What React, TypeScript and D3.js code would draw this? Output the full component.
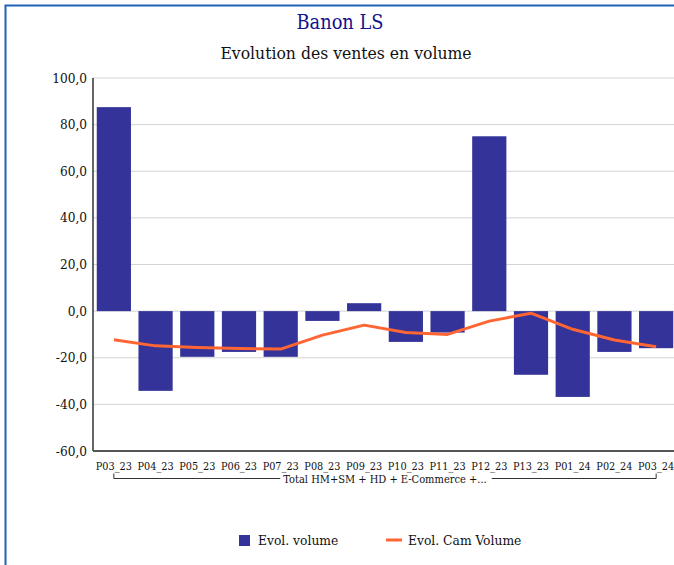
import React, { useEffect, useRef } from 'react';
import * as d3 from 'd3';

const periods = ['P03_23', 'P04_23', 'P05_23', 'P06_23', 'P07_23', 'P08_23', 'P09_23', 'P10_23', 'P11_23', 'P12_23', 'P13_23', 'P01_24', 'P02_24', 'P03_24'];
const evolVolume = [87.5, -34.2, -19.6, -17.5, -19.6, -4.2, 3.4, -13.2, -9.2, 75.0, -27.3, -36.8, -17.5, -15.9];
const evolCamVolume = [-12.3, -14.9, -15.6, -16.0, -16.3, -10.3, -6.0, -9.2, -10.0, -4.3, -0.9, -7.8, -12.4, -15.3];
const yTicks = [100, 80, 60, 40, 20, 0, -20, -40, -60];
const groupLabel = 'Total HM+SM + HD + E-Commerce +...';

const font = "'DejaVu Serif', serif";

export default function App() {
  const ref = useRef<SVGSVGElement>(null);

  useEffect(() => {
    const svg = d3.select(ref.current);
    svg.selectAll('*').remove();

    const left = 93, right = 677, top = 78, bottom = 451;

    svg.append('rect')
      .attr('x', 5.5).attr('y', 5.5).attr('width', 700).attr('height', 600)
      .attr('fill', '#fff').attr('stroke', '#1f62b5').attr('stroke-width', 2);

    svg.append('text')
      .attr('x', 340).attr('y', 29).attr('text-anchor', 'middle')
      .attr('font-family', font).attr('font-stretch', 'condensed')
      .attr('font-size', 19.8).attr('fill', '#12128c')
      .text('Banon LS');

    svg.append('text')
      .attr('x', 346).attr('y', 59).attr('text-anchor', 'middle')
      .attr('font-family', font).attr('font-stretch', 'condensed')
      .attr('font-size', 17.4).attr('fill', '#111')
      .text('Evolution des ventes en volume');

    const x = d3.scaleBand<string>()
      .domain(periods)
      .range([left, right])
      .paddingInner(0.18)
      .paddingOuter(0.09);

    const y = d3.scaleLinear().domain([-60, 100]).range([bottom, top]);

    // grid
    svg.append('g')
      .selectAll('line')
      .data(yTicks)
      .join('line')
      .attr('x1', left).attr('x2', 674)
      .attr('y1', d => y(d)).attr('y2', d => y(d))
      .attr('stroke', '#d3d3d3').attr('stroke-width', 1);

    // y labels
    svg.append('g')
      .selectAll('text')
      .data(yTicks)
      .join('text')
      .attr('x', 87).attr('y', d => y(d) + 4.5)
      .attr('text-anchor', 'end')
      .attr('font-family', font).attr('font-stretch', 'condensed')
      .attr('font-size', 13.5).attr('fill', '#111')
      .text(d => d.toFixed(1).replace('.', ','));

    // bars
    svg.append('g')
      .selectAll('rect')
      .data(evolVolume)
      .join('rect')
      .attr('x', (d, i) => x(periods[i])!)
      .attr('width', x.bandwidth())
      .attr('y', d => y(Math.max(0, d)))
      .attr('height', d => Math.abs(y(d) - y(0)))
      .attr('fill', '#333399');

    // line
    const line = d3.line<number>()
      .x((d, i) => x(periods[i])! + x.bandwidth() / 2)
      .y(d => y(d));
    svg.append('path')
      .datum(evolCamVolume)
      .attr('d', line)
      .attr('fill', 'none')
      .attr('stroke', '#ff6633')
      .attr('stroke-width', 3)
      .attr('stroke-linejoin', 'round');

    // axes
    svg.append('line')
      .attr('x1', left).attr('x2', left).attr('y1', top).attr('y2', bottom)
      .attr('stroke', '#333').attr('stroke-width', 1.5);
    svg.append('line')
      .attr('x1', left).attr('x2', 674).attr('y1', bottom).attr('y2', bottom)
      .attr('stroke', '#555').attr('stroke-width', 2);

    // x labels
    svg.append('g')
      .selectAll('text')
      .data(periods)
      .join('text')
      .attr('x', d => x(d)! + x.bandwidth() / 2)
      .attr('y', 469.5)
      .attr('text-anchor', 'middle')
      .attr('font-family', font).attr('font-stretch', 'condensed')
      .attr('font-size', 10.8).attr('fill', '#111')
      .text(d => d);

    // group bracket
    const gx1 = x(periods[0])! + x.bandwidth() / 2;
    const gx2 = x(periods[periods.length - 1])! + x.bandwidth() / 2;
    const gy = 478.5;
    const label = svg.append('text')
      .attr('x', (gx1 + gx2) / 2).attr('y', 483)
      .attr('text-anchor', 'middle')
      .attr('font-family', font).attr('font-stretch', 'condensed')
      .attr('font-size', 11).attr('fill', '#111')
      .text(groupLabel);
    const bb = (label.node() as SVGTextElement).getBBox();
    svg.append('path')
      .attr('d', `M${gx1},${gy - 5}V${gy}H${bb.x - 3}M${bb.x + bb.width + 5},${gy}H${gx2}V${gy - 5}`)
      .attr('fill', 'none').attr('stroke', '#333').attr('stroke-width', 1);

    // legend
    const lg = svg.append('g');
    lg.append('rect').attr('x', 239).attr('y', 535).attr('width', 11).attr('height', 11).attr('fill', '#333399');
    lg.append('text').attr('x', 258).attr('y', 545)
      .attr('font-family', font).attr('font-stretch', 'condensed')
      .attr('font-size', 13.7).attr('fill', '#111').text('Evol. volume');
    lg.append('line').attr('x1', 386).attr('x2', 402).attr('y1', 540).attr('y2', 540)
      .attr('stroke', '#ff6633').attr('stroke-width', 3);
    lg.append('text').attr('x', 408).attr('y', 545)
      .attr('font-family', font).attr('font-stretch', 'condensed')
      .attr('font-size', 13.7).attr('fill', '#111').text('Evol. Cam Volume');
  }, []);

  return (
    <div style={{ position: 'fixed', left: 0, top: 0, width: 674, height: 565, overflow: 'hidden', background: '#fff' }}>
      <svg ref={ref} width={674} height={565} />
    </div>
  );
}
